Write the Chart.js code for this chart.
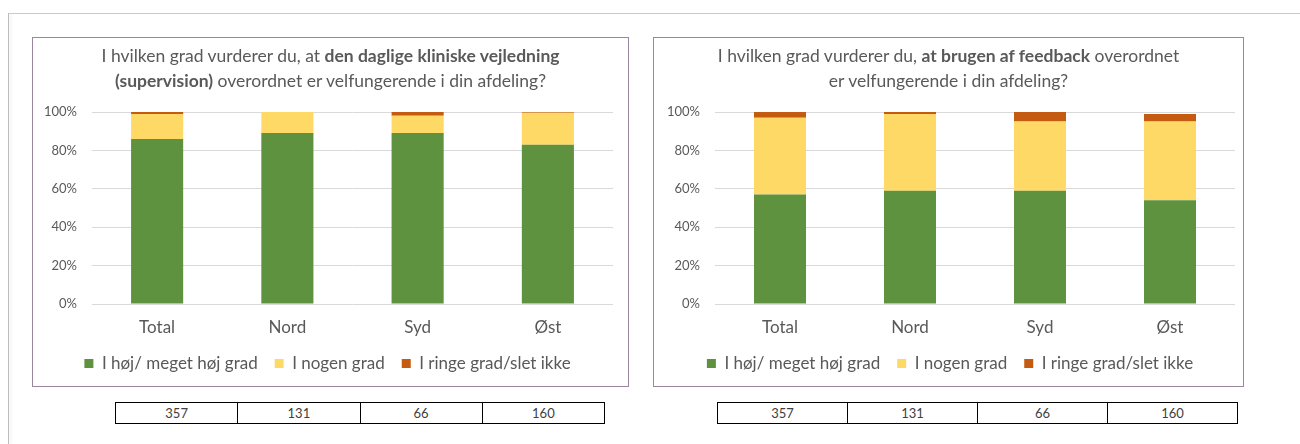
<!DOCTYPE html>
<html>
<head>
<meta charset="utf-8">
<script src="https://cdn.jsdelivr.net/npm/chart.js@4"></script>
<style>
  body { margin: 0; background: #fff; font-family: Lato, "Open Sans", sans-serif; }
  #page { position: relative; width: 1300px; height: 444px; overflow: hidden; }
  .topline { position: absolute; left: 8px; top: 13px; width: 1292px; height: 1px; background: #c9c9c9; }
  .sideline { position: absolute; left: 8px; top: 13px; width: 1px; height: 431px; background: #bdbdbd; box-shadow: 2px 0 3px #e6e6e6; }
  .box { position: absolute; top: 37px; height: 348px; border: 1px solid #9a869e; }
  .box canvas { position: absolute; left: 0; top: 0; }
  .title { position: absolute; left: 0; right: 0; top: 5px; text-align: center; color: #595959;
           font-size: 17.5px; line-height: 25px; }
  .title b { font-weight: 700; }
  table.n { position: absolute; top: 402px; border-collapse: collapse; height: 22px; table-layout: fixed; }
  table.n td { border: 1px solid #000; text-align: center; font-size: 13px; color: #404040; padding: 0; }
</style>
</head>
<body>
<div id="page">
  <div class="topline"></div>
  <div class="sideline"></div>

  <div class="box" style="left:32px; width:595px;">
    <canvas id="chartVejledning" width="595" height="344"></canvas>
    <div class="title">I hvilken grad vurderer du, at <b>den daglige kliniske vejledning</b><br><b>(supervision)</b> overordnet er velfungerende i din afdeling?</div>
  </div>

  <div class="box" style="left:653px; width:589px;">
    <canvas id="chartFeedback" width="589" height="344"></canvas>
    <div class="title">I hvilken grad vurderer du, <b>at brugen af feedback</b> overordnet<br>er velfungerende i din afdeling?</div>
  </div>

  <table class="n" id="tableLeft" style="left:115px; width:490px;"><tr></tr></table>
  <table class="n" id="tableRight" style="left:717px; width:521px;"><tr></tr></table>
</div>

<script>
"use strict"
// Kategorier og serier
const categories = ["Total", "Nord", "Syd", "Øst"];
const seriesNames = ["I høj/ meget høj grad", "I nogen grad", "I ringe grad/slet ikke"];
const seriesColors = ["#5f923e", "#ffd966", "#c55a11"];

// Den daglige kliniske vejledning (procent)
const vejledningHoj = [86, 89, 89, 83];
const vejledningNogen = [13, 11, 9, 16.6];
const vejledningRinge = [1, 0, 2, 0.4];

// Brugen af feedback (procent)
const feedbackHoj = [57, 59, 59, 54];
const feedbackNogen = [40, 40, 36, 41];
const feedbackRinge = [3, 1, 5, 4];

// Antal besvarelser under hver kategori
const respondents = [357, 131, 66, 160];

const yTicks = [0, 20, 40, 60, 80, 100];

const grey = "#595959";

function fillTable(id) {
    let row = document.querySelector("#" + id + " tr");
    respondents.forEach(n => {
        let td = document.createElement("td");
        td.textContent = n;
        row.appendChild(td);
    });
}

// Laver et stablet søjlediagram
function createStackedChart(canvasId, values, padLeft, padRight) {
    const ctx = document.getElementById(canvasId);
    new Chart(ctx, {
        type: "bar",
        data: {
            labels: categories,
            datasets: values.map((v, i) => ({
                label: seriesNames[i],
                data: v,
                backgroundColor: seriesColors[i],
                borderWidth: 0,
                barPercentage: 0.4,
                categoryPercentage: 1
            }))
        },
        options: {
            responsive: false,
            animation: false,
            layout: { padding: { top: 74, left: padLeft, right: padRight, bottom: 0 } },
            plugins: {
                tooltip: { enabled: false },
                legend: {
                    position: "bottom",
                    labels: {
                        boxWidth: 9,
                        boxHeight: 9,
                        padding: 17,
                        color: grey,
                        font: { family: "Lato", size: 17 }
                    }
                }
            },
            scales: {
                x: {
                    stacked: true,
                    grid: { display: false, drawTicks: false },
                    border: { display: false },
                    ticks: { color: grey, padding: 13, font: { family: "Lato", size: 17 } },
                    afterFit: scale => { scale.height = 34; }
                },
                y: {
                    stacked: true,
                    min: 0,
                    max: 100,
                    afterBuildTicks: scale => { scale.ticks = yTicks.map(v => ({ value: v })); },
                    grid: { color: "#d9d9d9", drawTicks: false },
                    border: { display: false },
                    ticks: {
                        color: grey,
                        padding: 15,
                        font: { family: "Lato", size: 13 },
                        callback: v => v + "%"
                    },
                    afterFit: scale => { scale.width = 50; }
                }
            }
        }
    });
}

createStackedChart("chartVejledning", [vejledningHoj, vejledningNogen, vejledningRinge], 9, 15);
createStackedChart("chartFeedback", [feedbackHoj, feedbackNogen, feedbackRinge], 11, 8);
fillTable("tableLeft");
fillTable("tableRight");
</script>
</body>
</html>
